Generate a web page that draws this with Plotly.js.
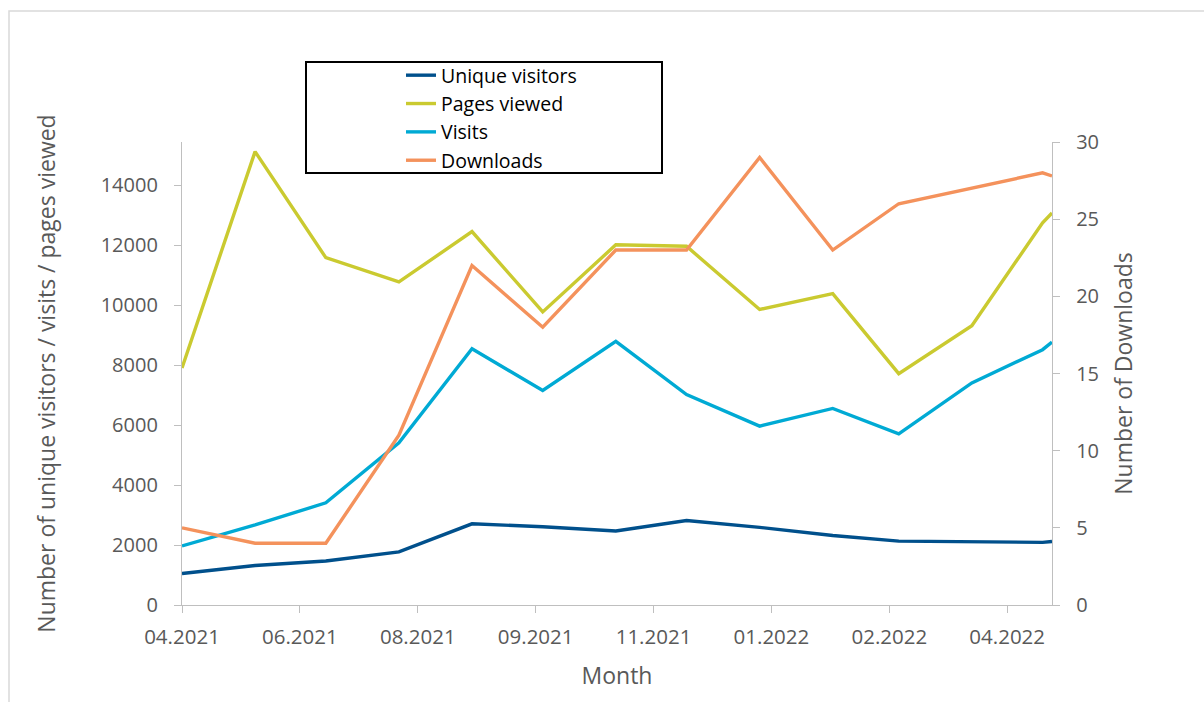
<!DOCTYPE html>
<html>
<head>
<meta charset="utf-8">
<script src="https://cdn.plot.ly/plotly-3.0.1.min.js"></script>
<style>
  html, body { margin: 0; padding: 0; background: #ffffff; }
  #chart { width: 1204px; height: 702px; }
</style>
</head>
<body>
<div id="chart"></div>
<script>
// ---- data ----
const months = ["2021-04-30","2021-05-31","2021-06-30","2021-07-31","2021-08-31","2021-09-30",
                "2021-10-31","2021-11-30","2021-12-31","2022-01-31","2022-02-28","2022-03-31",
                "2022-04-30","2022-05-04"];
const uniqueVisitors = [1050,1320,1470,1770,2710,2610,2470,2820,2590,2320,2130,2110,2090,2120];
const pagesViewed    = [7910,15130,11590,10780,12460,9780,12020,11970,9860,10390,7720,9320,12750,13080];
const visits         = [1970,2670,3410,5410,8550,7160,8800,7020,5970,6560,5710,7410,8520,8770];
const downloads      = [5,4,4,11,22,18,23,23,29,23,26,27,28,27.8];

const seriesNames = ["Unique visitors","Pages viewed","Visits","Downloads"];
const tickVals  = ["2021-04-30","2021-06-19","2021-08-08","2021-09-27","2021-11-16","2022-01-05","2022-02-24","2022-04-15"];
const tickText  = ["04.2021","06.2021","08.2021","09.2021","11.2021","01.2022","02.2022","04.2022"];
const xRange = ["2021-04-30","2022-05-04"];

// ---- styling ----
const FONT = "Open Sans, Liberation Sans, sans-serif";
const GREY = "#595959";
const AXIS = "#BFBFBF";
const colors = ["#00508C","#CACA30","#00AAD4","#F4925C"];

const traces = [
  {x: months, y: uniqueVisitors, name: seriesNames[0], yaxis: "y"},
  {x: months, y: pagesViewed,    name: seriesNames[1], yaxis: "y"},
  {x: months, y: visits,         name: seriesNames[2], yaxis: "y"},
  {x: months, y: downloads,      name: seriesNames[3], yaxis: "y2"}
].map((t, i) => Object.assign(t, {
  type: "scatter", mode: "lines",
  line: {color: colors[i], width: 3.4},
  hoverinfo: "x+y+name"
}));

const L = 182, R = 1052, T = 142, B = 605, W = 1204, H = 702;
const px = v => (v - L) / (R - L);
const py = v => (B - v) / (B - T);

const layout = {
  width: W, height: H,
  margin: {l: L, r: W - R, t: T, b: H - B, pad: 0},
  paper_bgcolor: "#ffffff", plot_bgcolor: "#ffffff",
  font: {family: FONT, size: 20, color: GREY},
  showlegend: true,
  legend: {
    x: px(401), xanchor: "left", y: py(56), yanchor: "top",
    bgcolor: "rgba(0,0,0,0)", borderwidth: 0,
    font: {family: FONT, size: 19.5, color: "#000000"},
    tracegroupgap: 0
  },
  xaxis: {
    type: "date", range: xRange, fixedrange: true,
    tickmode: "array", tickvals: tickVals, ticktext: tickText,
    ticks: "outside", ticklen: 7, tickwidth: 1.3, tickcolor: AXIS,
    showline: true, linecolor: AXIS, linewidth: 1.3,
    showgrid: false, zeroline: false,
    tickfont: {family: FONT, size: 20.5, color: GREY},
    ticklabelstandoff: 6,
    title: {text: "Month", font: {family: FONT, size: 23, color: GREY}, standoff: 19}
  },
  yaxis: {
    range: [0, 15450], tick0: 0, dtick: 2000, tickformat: "d", fixedrange: true,
    ticks: "outside", ticklen: 7, tickwidth: 1.3, tickcolor: AXIS,
    showline: true, linecolor: AXIS, linewidth: 1.3,
    showgrid: false, zeroline: false,
    tickfont: {family: FONT, size: 20, color: GREY},
    ticklabelstandoff: 12,
    title: {text: "Number of unique visitors / visits / pages viewed", font: {family: FONT, size: 23, color: GREY}, standoff: 38}
  },
  yaxis2: {
    overlaying: "y", side: "right",
    range: [0, 30], tick0: 0, dtick: 5, fixedrange: true,
    ticks: "outside", ticklen: 7, tickwidth: 1.3, tickcolor: AXIS,
    showline: true, linecolor: AXIS, linewidth: 1.3,
    showgrid: false, zeroline: false,
    tickfont: {family: FONT, size: 20, color: GREY},
    ticklabelstandoff: 12,
    title: {text: "Number of Downloads", font: {family: FONT, size: 23, color: GREY}, standoff: 17}
  },
  shapes: [
    {type: "rect", xref: "paper", yref: "paper", layer: "below",
     x0: px(9), x1: px(1215), y0: py(715), y1: py(11),
     line: {color: "#D9D9D9", width: 1.5}, fillcolor: "rgba(0,0,0,0)"},
    {type: "rect", xref: "paper", yref: "paper", layer: "above",
     x0: px(306), x1: px(662), y0: py(173), y1: py(62),
     line: {color: "#000000", width: 2}, fillcolor: "rgba(0,0,0,0)"}
  ]
};

Plotly.newPlot("chart", traces, layout, {displayModeBar: false, responsive: false, staticPlot: false});
</script>
</body>
</html>
